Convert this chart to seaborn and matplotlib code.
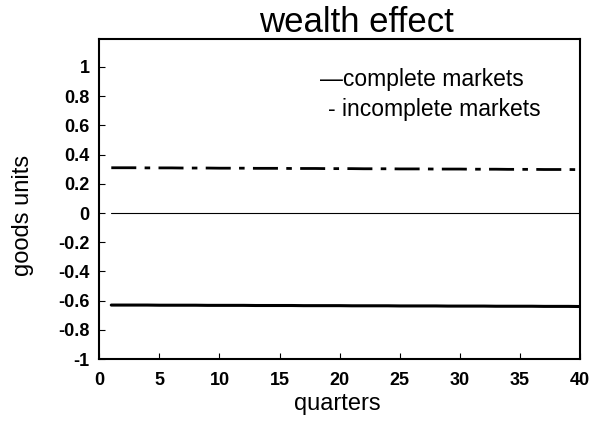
import pandas as pd
import numpy as np
import matplotlib
matplotlib.use("Agg")
import matplotlib.pyplot as plt
import seaborn as sns

quarters = list(range(1, 41))
complete = [-0.630, -0.630, -0.630, -0.630, -0.631, -0.631, -0.631, -0.631, -0.632, -0.632,
            -0.632, -0.632, -0.633, -0.633, -0.633, -0.633, -0.634, -0.634, -0.634, -0.634,
            -0.635, -0.635, -0.635, -0.635, -0.636, -0.636, -0.636, -0.636, -0.637, -0.637,
            -0.637, -0.637, -0.638, -0.638, -0.638, -0.638, -0.639, -0.639, -0.639, -0.640]
incomplete = [0.310, 0.310, 0.310, 0.309, 0.309, 0.309, 0.308, 0.308, 0.308, 0.307,
              0.307, 0.307, 0.306, 0.306, 0.306, 0.305, 0.305, 0.305, 0.304, 0.304,
              0.304, 0.303, 0.303, 0.303, 0.302, 0.302, 0.302, 0.301, 0.301, 0.301,
              0.300, 0.300, 0.300, 0.299, 0.299, 0.299, 0.298, 0.298, 0.298, 0.297]
zero = [0.0] * 40

df = pd.DataFrame({'quarter': quarters, 'complete': complete,
                   'incomplete': incomplete, 'zero': zero})

sns.set_style("white")
plt.rcParams['font.family'] = ['Liberation Sans', 'DejaVu Sans']
plt.rcParams['text.color'] = 'black'
plt.rcParams['axes.labelcolor'] = 'black'
plt.rcParams['xtick.color'] = 'black'
plt.rcParams['ytick.color'] = 'black'

fig, ax = plt.subplots(figsize=(5.98, 4.26), dpi=100)
fig.subplots_adjust(left=0.166, right=0.97, top=0.908, bottom=0.157)

sns.lineplot(x='quarter', y='zero', data=df, ax=ax, color='black', linewidth=0.8)
sns.lineplot(x='quarter', y='complete', data=df, ax=ax, color='black', linewidth=2.2)
sns.lineplot(x='quarter', y='incomplete', data=df, ax=ax, color='black', linewidth=2.0,
             dashes=False)
ax.lines[-1].set_dashes([9, 3, 2, 3])

ax.set_xlim(0, 40)
ax.set_ylim(-1, 1.19)
ax.set_xticks(range(0, 41, 5))
ax.set_yticks([-1, -0.8, -0.6, -0.4, -0.2, 0, 0.2, 0.4, 0.6, 0.8, 1])
ax.set_yticklabels(['-1', '-0.8', '-0.6', '-0.4', '-0.2', '0', '0.2', '0.4', '0.6', '0.8', '1'])
ax.tick_params(direction='in', length=4, width=0.8, labelsize=13, pad=7,
               left=True, bottom=True)
ax.tick_params(axis='x', pad=9)
for lab in ax.get_xticklabels() + ax.get_yticklabels():
    lab.set_fontweight('bold')
for s in ax.spines.values():
    s.set_color('black')
    s.set_linewidth(1.5)

ax.set_title("wealth effect", fontsize=25, pad=5, x=0.535)
ax.set_xlabel("quarters", fontsize=17)
ax.set_ylabel("goods units", fontsize=17)
ax.xaxis.set_label_coords(0.495, -0.105)
ax.yaxis.set_label_coords(-0.135, 0.45)

ax.text(0.459, 0.874, "\u2014complete markets", transform=ax.transAxes, fontsize=16.5,
        va='center')
ax.text(0.475, 0.779, "- incomplete markets", transform=ax.transAxes, fontsize=16.5,
        va='center')

plt.savefig("out.png", dpi=100)
